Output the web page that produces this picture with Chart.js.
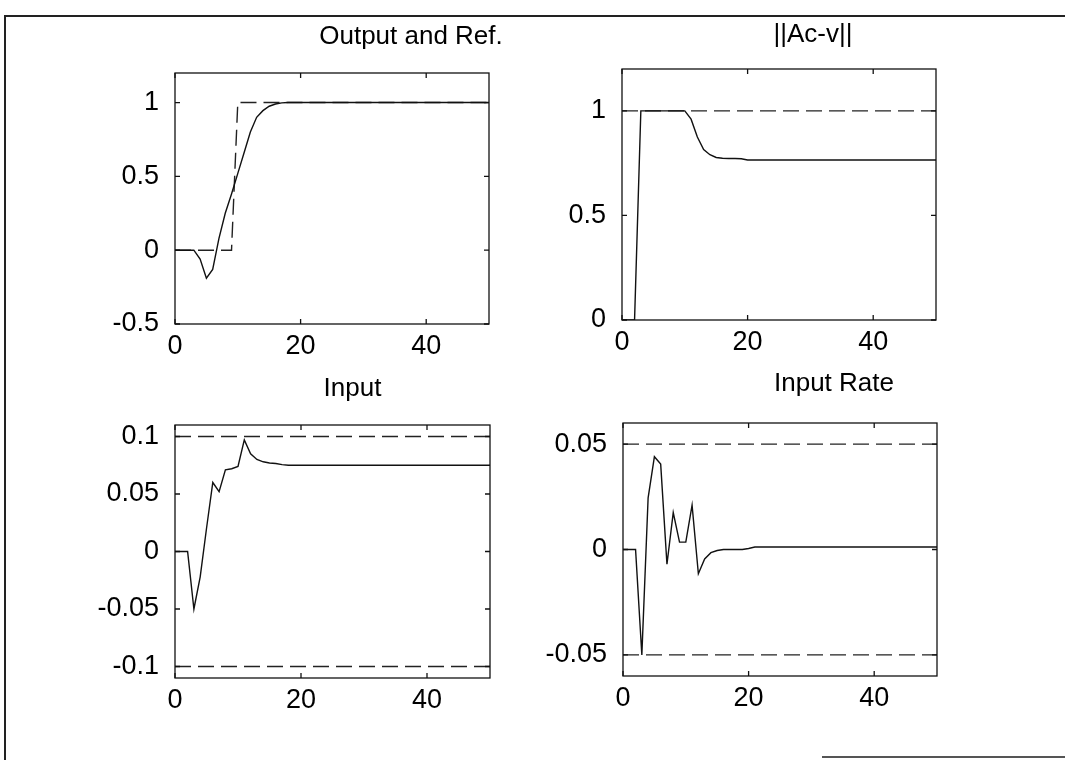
<!DOCTYPE html>
<html>
<head>
<meta charset="utf-8">
<title>Output and Ref.</title>
<script src="https://cdn.jsdelivr.net/npm/chart.js@4.4.1/dist/chart.umd.min.js"></script>
<style>
  body { margin: 0; background: #fff; }
  #page { position: relative; width: 1065px; height: 760px; overflow: hidden; background: #fff; }
  .frame { position: absolute; left: 4px; top: 15px; width: 1061px; height: 745px; border-top: 2px solid #222; border-left: 2px solid #222; }
  .frame-bottom { position: absolute; left: 822px; top: 756px; width: 243px; border-top: 2px solid #555; }
  canvas { position: absolute; }
</style>
</head>
<body>
<div id="page">
  <div class="frame"></div>
  <div class="frame-bottom"></div>
  <canvas id="outputChart" width="419" height="351" style="left:90px;top:18px"></canvas>
  <canvas id="normChart" width="419" height="351" style="left:537px;top:14px"></canvas>
  <canvas id="inputChart" width="420" height="353" style="left:90px;top:370px"></canvas>
  <canvas id="rateChart" width="419" height="353" style="left:538px;top:368px"></canvas>
</div>
<script>
// sample index k
const steps = [0, 1, 2, 3, 4, 5, 6, 7, 8, 9, 10, 11, 12, 13, 14, 15, 16, 17, 18, 19, 20,
  21, 22, 23, 24, 25, 26, 27, 28, 29, 30, 31, 32, 33, 34, 35, 36, 37, 38, 39, 40,
  41, 42, 43, 44, 45, 46, 47, 48, 49, 50];
const xTicks = [0, 20, 40];

// output and reference
const output = [0, 0, 0, 0, -0.06, -0.19, -0.13, 0.08, 0.25, 0.38, 0.52, 0.66, 0.8, 0.9, 0.945, 0.975, 0.99, 0.998,
  1, 1, 1, 1, 1, 1, 1, 1, 1, 1, 1, 1, 1, 1, 1, 1, 1, 1, 1, 1, 1, 1, 1, 1, 1, 1, 1, 1, 1, 1, 1, 1, 1];
const reference = [0, 0, 0, 0, 0, 0, 0, 0, 0, 0,
  1, 1, 1, 1, 1, 1, 1, 1, 1, 1, 1, 1, 1, 1, 1, 1, 1, 1, 1, 1, 1, 1, 1, 1, 1, 1, 1, 1, 1, 1, 1, 1, 1, 1, 1, 1, 1, 1, 1, 1, 1];
const outputTicks = [-0.5, 0, 0.5, 1];

// ||Ac-v||
const normAcv = [0, 0, 0, 1, 1, 1, 1, 1, 1, 1, 1, 0.96, 0.875, 0.815, 0.79, 0.777, 0.773, 0.772, 0.772, 0.771,
  0.765, 0.765, 0.765, 0.765, 0.765, 0.765, 0.765, 0.765, 0.765, 0.765, 0.765, 0.765, 0.765, 0.765, 0.765,
  0.765, 0.765, 0.765, 0.765, 0.765, 0.765, 0.765, 0.765, 0.765, 0.765, 0.765, 0.765, 0.765, 0.765, 0.765, 0.765];
const normLimit = 1;
const normTicks = [0, 0.5, 1];

// input
const input = [0, 0, 0, -0.05, -0.022, 0.02, 0.06, 0.052, 0.071, 0.072, 0.074, 0.097, 0.085, 0.08, 0.078, 0.077, 0.0765, 0.0755,
  0.075, 0.075, 0.075, 0.075, 0.075, 0.075, 0.075, 0.075, 0.075, 0.075, 0.075, 0.075, 0.075, 0.075, 0.075, 0.075,
  0.075, 0.075, 0.075, 0.075, 0.075, 0.075, 0.075, 0.075, 0.075, 0.075, 0.075, 0.075, 0.075, 0.075, 0.075, 0.075, 0.075];
const inputMax = 0.1;
const inputMin = -0.1;
const inputTicks = [-0.1, -0.05, 0, 0.05, 0.1];

// input rate
const inputRate = [0, 0, 0, -0.05, 0.0245, 0.044, 0.0405, -0.007, 0.0175, 0.0035, 0.0035, 0.021, -0.0115, -0.0045,
  -0.0015, -0.0005, 0, 0, 0, 0, 0.0005,
  0.0012, 0.0012, 0.0012, 0.0012, 0.0012, 0.0012, 0.0012, 0.0012, 0.0012, 0.0012, 0.0012, 0.0012, 0.0012, 0.0012,
  0.0012, 0.0012, 0.0012, 0.0012, 0.0012, 0.0012, 0.0012, 0.0012, 0.0012, 0.0012, 0.0012, 0.0012, 0.0012, 0.0012,
  0.0012, 0.0012];
const rateMax = 0.05;
const rateMin = -0.05;
const rateTicks = [-0.05, 0, 0.05];

const FONT = '"Liberation Sans", Arial, Helvetica, sans-serif';

// matlab style box with inward ticks and the panel title
const panelFrame = {
  id: 'panelFrame',
  afterDraw(chart, args, opts) {
    const { ctx, chartArea: a, scales } = chart;
    ctx.save();
    ctx.strokeStyle = '#111';
    ctx.lineWidth = 1.3;
    ctx.strokeRect(a.left, a.top, a.right - a.left, a.bottom - a.top);
    ctx.beginPath();
    scales.x.ticks.forEach((t) => {
      const px = scales.x.getPixelForValue(t.value);
      ctx.moveTo(px, a.bottom); ctx.lineTo(px, a.bottom - 5);
      ctx.moveTo(px, a.top); ctx.lineTo(px, a.top + 5);
    });
    scales.y.ticks.forEach((t) => {
      const py = scales.y.getPixelForValue(t.value);
      ctx.moveTo(a.left, py); ctx.lineTo(a.left + 5, py);
      ctx.moveTo(a.right, py); ctx.lineTo(a.right - 5, py);
    });
    ctx.stroke();
    ctx.fillStyle = '#000';
    ctx.font = '26px ' + FONT;
    ctx.textAlign = 'center';
    ctx.textBaseline = 'middle';
    ctx.fillText(opts.text, (a.left + a.right) / 2 + opts.dx, a.top - opts.dy);
    ctx.restore();
  }
};

function bound(value) {
  return [{ x: steps[0], y: value }, { x: steps[steps.length - 1], y: value }];
}

function solid(data) {
  return { data: data, borderColor: '#111', borderWidth: 1.4, pointRadius: 0, tension: 0 };
}

function dashed(data) {
  return { data: data, borderColor: '#222', borderWidth: 1.4, borderDash: [16, 7], pointRadius: 0, tension: 0 };
}

function makePanel(id, title, yMin, yMax, yTicks, datasets) {
  const ctx = document.getElementById(id).getContext('2d');
  return new Chart(ctx, {
    type: 'line',
    data: { labels: steps, datasets: datasets },
    plugins: [panelFrame],
    options: {
      responsive: false,
      animation: false,
      devicePixelRatio: 1,
      layout: { padding: { top: 55, right: 20, left: 0, bottom: 0 } },
      plugins: {
        legend: { display: false },
        tooltip: { enabled: false },
        panelFrame: title
      },
      scales: {
        x: {
          type: 'linear',
          min: 0,
          max: 50,
          grid: { display: false },
          border: { display: false },
          afterBuildTicks: (axis) => { axis.ticks = xTicks.map((v) => ({ value: v })); },
          afterFit: (axis) => { axis.height = 45; },
          ticks: { autoSkip: false, padding: -2, color: '#000', font: { family: FONT, size: 27 }, callback: (v) => String(v) }
        },
        y: {
          min: yMin,
          max: yMax,
          grid: { display: false },
          border: { display: false },
          afterBuildTicks: (axis) => { axis.ticks = yTicks.map((v) => ({ value: v })); },
          afterFit: (axis) => { axis.width = 85; },
          ticks: { autoSkip: false, padding: 8, color: '#000', font: { family: FONT, size: 27 }, callback: (v) => String(v) }
        }
      }
    }
  });
}

makePanel('outputChart', { text: 'Output and Ref.', dx: 79, dy: 36 }, -0.5, 1.2, outputTicks,
  [solid(output), dashed(reference)]);

makePanel('normChart', { text: '||Ac-v||', dx: 34, dy: 34 }, 0, 1.2, normTicks,
  [solid(normAcv), dashed(bound(normLimit))]);

makePanel('inputChart', { text: 'Input', dx: 20, dy: 36 }, -0.11, 0.11, inputTicks,
  [solid(input), dashed(bound(inputMax)), dashed(bound(inputMin))]);

makePanel('rateChart', { text: 'Input Rate', dx: 54, dy: 39 }, -0.06, 0.06, rateTicks,
  [solid(inputRate), dashed(bound(rateMax)), dashed(bound(rateMin))]);
</script>
</body>
</html>
